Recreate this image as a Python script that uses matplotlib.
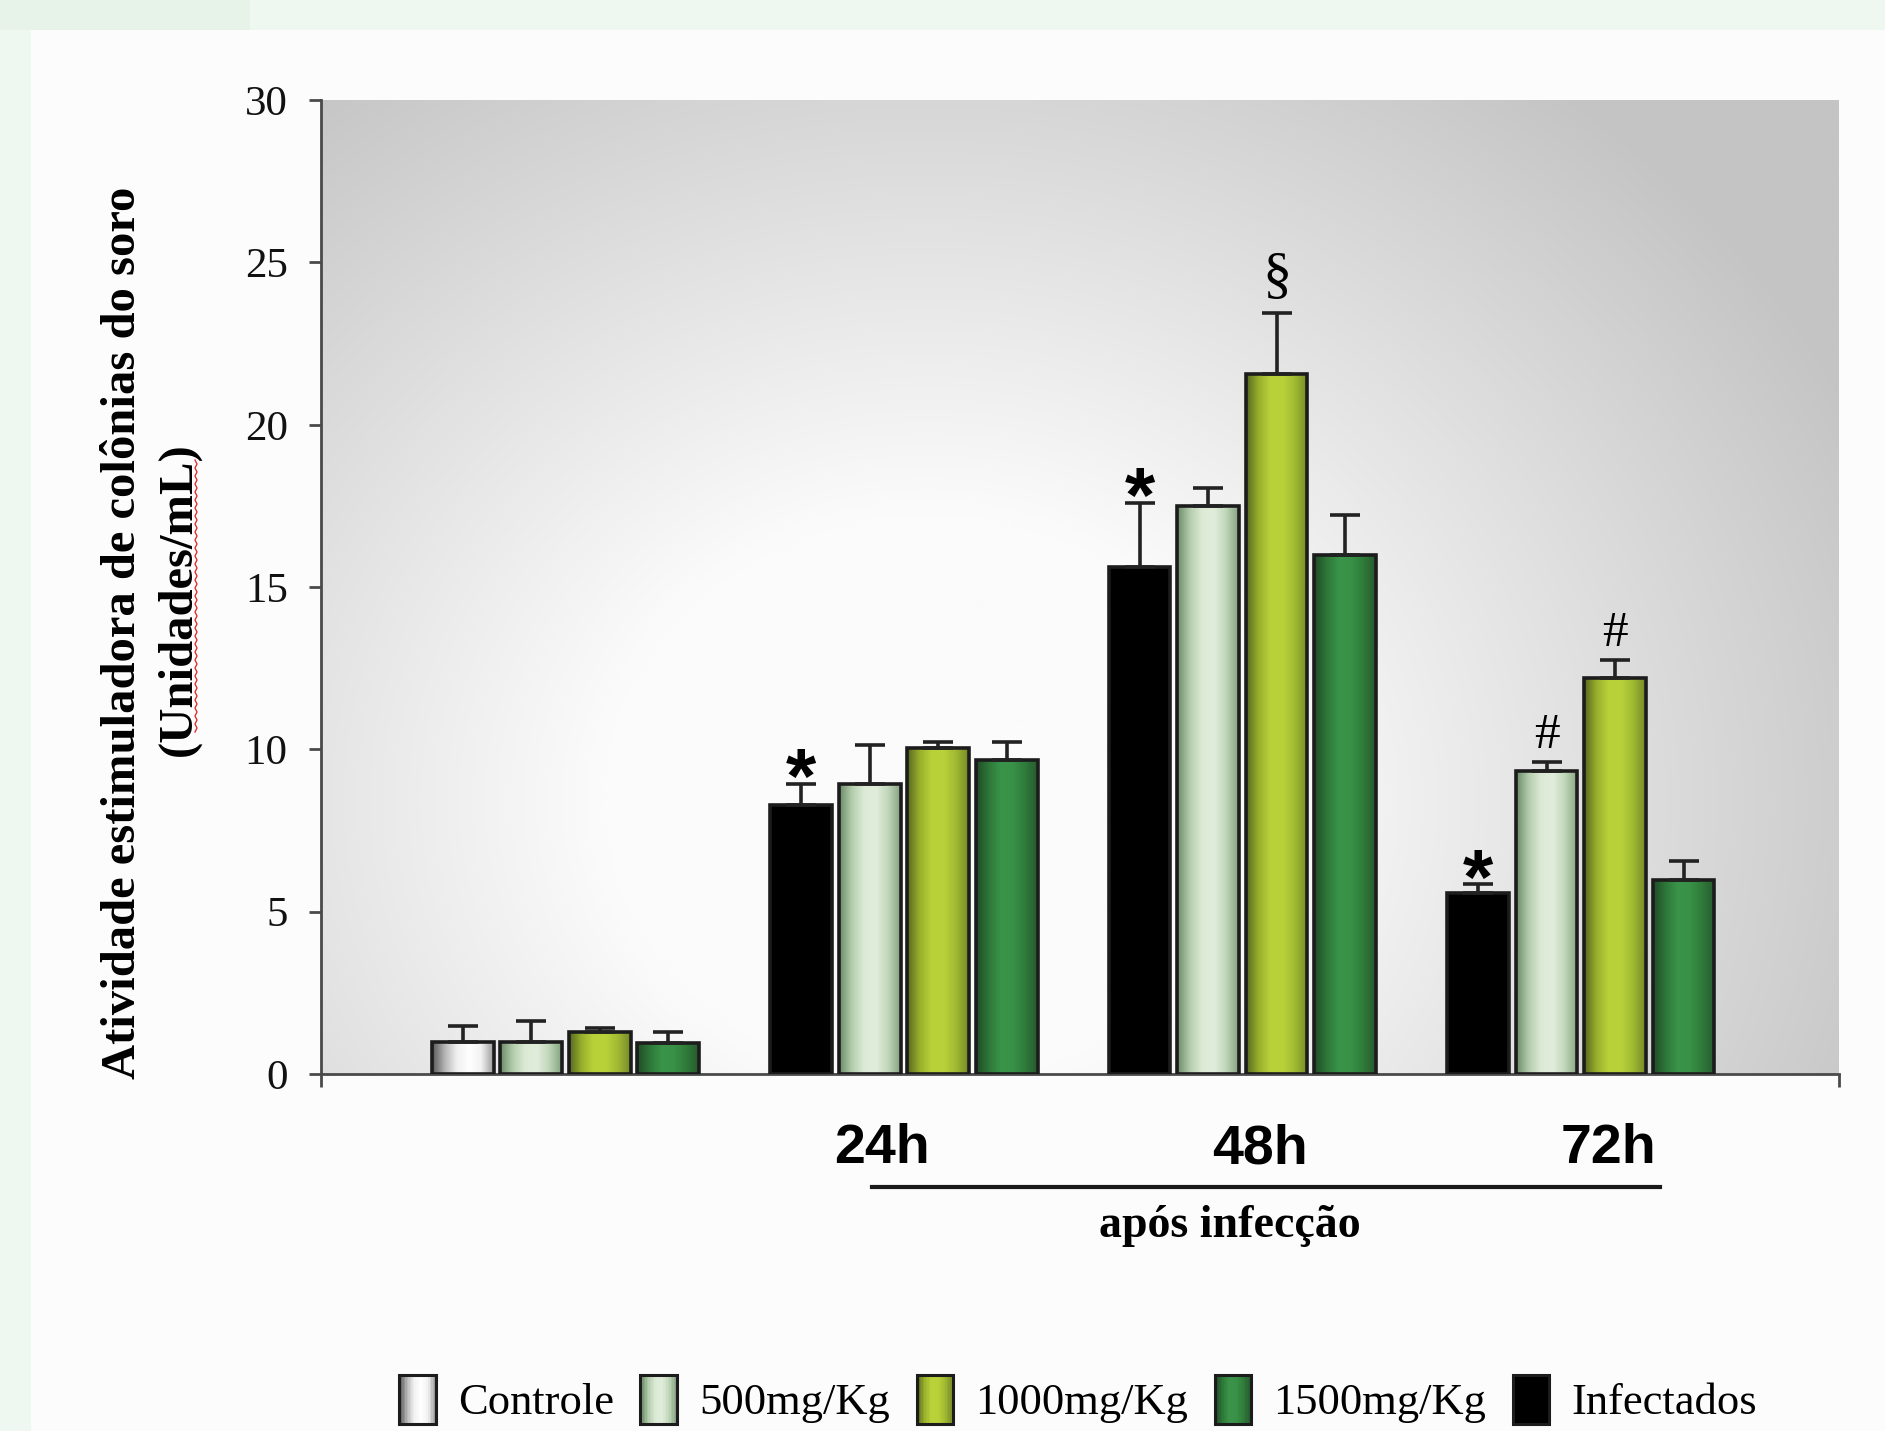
import matplotlib.pyplot as plt
import numpy as np
from matplotlib import transforms
from matplotlib.colors import LinearSegmentedColormap
from matplotlib.legend_handler import HandlerBase
from matplotlib.patches import Patch, Rectangle
from matplotlib.lines import Line2D

# groups along the x axis (first one is the uninfected control)
groups = ['', '24h', '48h', '72h']

controle_mean = [1.00]
controle_err = [0.47]
infectados_mean = [8.30, 15.62, 5.59]
infectados_err = [0.64, 1.98, 0.25]
d500_mean = [0.98, 8.92, 17.49, 9.32]
d500_err = [0.65, 1.22, 0.55, 0.29]
d1000_mean = [1.30, 10.05, 21.57, 12.21]
d1000_err = [0.11, 0.19, 1.88, 0.54]
d1500_mean = [0.94, 9.66, 15.99, 5.99]
d1500_err = [0.34, 0.56, 1.22, 0.56]

# significance marks: (group, bar in group, symbol)
marks = [(1, 0, '*'), (2, 0, '*'), (3, 0, '*'),
         (2, 2, '\u00a7'), (3, 1, '#'), (3, 2, '#')]

legend_order = ['Controle', '500mg/Kg', '1000mg/Kg', '1500mg/Kg', 'Infectados']

shades = {
    'Controle': ['#5a5a5a', '#b4b4b4', '#f0f0f0', '#ffffff', '#f2f2f2', '#9c9c9c'],
    '500mg/Kg': ['#6c8a68', '#b3cdac', '#dbead5', '#e1eddb', '#c0d6b9', '#86a381'],
    '1000mg/Kg': ['#596821', '#98b02c', '#bad23a', '#b9d139', '#a0b932', '#778a28'],
    '1500mg/Kg': ['#224c28', '#2e7739', '#3a9449', '#389147', '#2f7b3b', '#275a2e'],
    'Infectados': ['#000000', '#000000'],
}
cmaps = {k: LinearSegmentedColormap.from_list(k, v) for k, v in shades.items()}

serif = 'Liberation Serif'
narrow = ['Liberation Sans Narrow', 'Liberation Sans']

fig = plt.figure(figsize=(18.85, 14.31), dpi=100)
fig.patch.set_facecolor('#eff7f1')
# white slide panel and the darker strip at the top left
fig.add_artist(Rectangle((31 / 1885, 0), 1, 1401 / 1431, transform=fig.transFigure,
                         facecolor='#fcfcfc', edgecolor='none', zorder=-5))
fig.add_artist(Rectangle((0, 1401 / 1431), 250 / 1885, 1, transform=fig.transFigure,
                         facecolor='#e7f2e9', edgecolor='none', zorder=-5))

ax = fig.add_axes([0.1703, 0.2495, 0.8053, 0.6805])
ax.patch.set_visible(False)

# soft grey background of the plotting area
xx, yy = np.meshgrid(np.linspace(0, 1, 300), np.linspace(0, 1, 200))
dist = np.hypot((xx - 0.40) / 0.62, (yy - 0.28) / 0.85)
shade = (251 - 55 * np.clip((dist - 0.35) / 0.75, 0, 1)) / 255
ax.imshow(np.dstack([shade] * 3), extent=(0, 1, 0, 1), transform=ax.transAxes,
          origin='lower', aspect='auto', zorder=0, interpolation='bilinear')

group_step = 4.94
bar_w = 0.9
grad = np.linspace(0, 1, 64)[np.newaxis, :]

tops = {}
for g in range(len(groups)):
    if g == 0:
        bars = [('Controle', controle_mean[0], controle_err[0])]
    else:
        bars = [('Infectados', infectados_mean[g - 1], infectados_err[g - 1])]
    bars += [('500mg/Kg', d500_mean[g], d500_err[g]),
             ('1000mg/Kg', d1000_mean[g], d1000_err[g]),
             ('1500mg/Kg', d1500_mean[g], d1500_err[g])]
    for j, (name, val, err) in enumerate(bars):
        x = g * group_step + j
        ax.imshow(grad, cmap=cmaps[name], extent=(x - bar_w / 2, x + bar_w / 2, 0, val),
                  aspect='auto', zorder=2, interpolation='bicubic')
        ax.bar(x, val, width=bar_w, facecolor='none', edgecolor='#1c1c1c',
               linewidth=2.6, zorder=3)
        ax.errorbar(x, val, yerr=[[0], [err]], fmt='none', ecolor='#222222',
                    elinewidth=2.6, capsize=11, capthick=2.6, zorder=4)
        tops[(g, j)] = (x, val + err)

for g, j, sym in marks:
    x, y = tops[(g, j)]
    if sym == '*':
        ax.annotate(sym, (x, y), xytext=(0, -14), textcoords='offset points',
                    ha='center', va='baseline', fontsize=56, fontweight='bold',
                    family='Liberation Sans', zorder=5)
    elif sym == '#':
        ax.annotate(sym, (x, y), xytext=(0, 10), textcoords='offset points',
                    ha='center', va='baseline', fontsize=37, family=serif, zorder=5)
    else:
        ax.annotate(sym, (x, y), xytext=(0, 15), textcoords='offset points',
                    ha='center', va='baseline', fontsize=42, family=serif, zorder=5)

xmin, xmax = -2.07, 20.09
ax.set_xlim(xmin, xmax)
ax.set_ylim(0, 30)
ax.set_yticks(range(0, 31, 5))
ax.set_xticks([xmin, xmax])
ax.set_xticklabels([])
for s in ['top', 'right']:
    ax.spines[s].set_visible(False)
for s in ['left', 'bottom']:
    ax.spines[s].set_color('#4a4a4a')
    ax.spines[s].set_linewidth(2)
ax.tick_params(axis='both', direction='out', length=9, width=2, color='#4a4a4a')
ax.tick_params(axis='y', labelsize=31, pad=15, labelcolor='#111111')
for lab in ax.get_yticklabels():
    lab.set_family(serif)

# time labels and the bracket line below the axis
blend = transforms.blended_transform_factory(ax.transData, fig.transFigure)
time_x = [6.12, 11.64, 16.73]
for lab, xt in zip(groups[1:], time_x):
    ax.text(xt, (1431 - 1149) / 1431, lab, transform=blend, ha='center', va='center',
            fontsize=40, fontweight='bold', family=narrow)
ax.add_line(Line2D([5.98, 17.47], [(1431 - 1187) / 1431] * 2, transform=blend,
                   color='#1a1a1a', linewidth=3, clip_on=False))
ax.text(11.2, (1431 - 1226) / 1431, 'após infecção', transform=blend, ha='center',
        va='center', fontsize=33, fontweight='bold', family=serif)

# y axis title in two lines
fig.text(0.0650, 0.558, 'Atividade estimuladora de colônias do soro', rotation=90,
         ha='center', va='center', fontsize=35, fontweight='bold', family=serif)
fig.text(0.0950, 0.581, '(Unidades/mL)', rotation=90, ha='center', va='center',
         fontsize=35, fontweight='bold', family=serif)
# red spell-check squiggle next to "Unidades/mL"
zy = np.arange(460, 734, 4)
zx = 195 + 2.0 * (np.arange(len(zy)) % 2)
fig.add_artist(Line2D(zx / 1885, (1431 - zy) / 1431, transform=fig.transFigure,
                      color='#e03030', linewidth=1.0))


class GradientHandler(HandlerBase):
    def __init__(self, cmap):
        super().__init__()
        self.cmap = cmap

    def create_artists(self, legend, orig_handle, xdescent, ydescent, width, height,
                       fontsize, trans):
        n = 24
        arts = []
        for i in range(n):
            arts.append(Rectangle((-xdescent + width * i / n, -ydescent), width / n * 1.05,
                                  height, facecolor=self.cmap(i / (n - 1)),
                                  edgecolor='none', transform=trans))
        arts.append(Rectangle((-xdescent, -ydescent), width, height, facecolor='none',
                              edgecolor='#1c1c1c', linewidth=2.2, transform=trans))
        return arts


handles = [Patch(label=name) for name in legend_order]
hmap = {h: GradientHandler(cmaps[h.get_label()]) for h in handles}
fig.legend(handles=handles, handler_map=hmap, loc='center', ncol=5, frameon=False,
           bbox_to_anchor=(0.572, 0.022), prop={'family': serif, 'size': 32},
           handlelength=0.82, handleheight=1.35, handletextpad=0.5, columnspacing=0.6)

fig.savefig('out.png', dpi=100, facecolor=fig.get_facecolor())
